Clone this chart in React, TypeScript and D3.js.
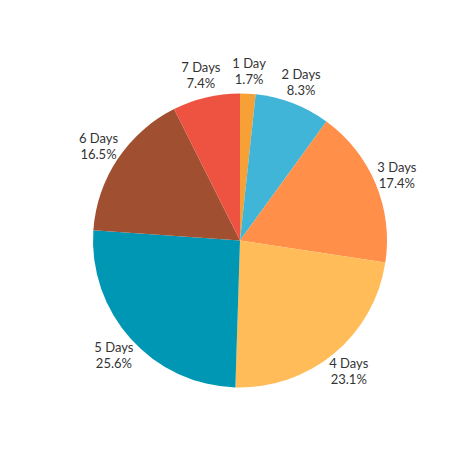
import React from "react";
import * as d3 from "d3";

const categories = ["1 Day", "2 Days", "3 Days", "4 Days", "5 Days", "6 Days", "7 Days"];
const values = [1.7, 8.3, 17.4, 23.1, 25.6, 16.5, 7.4];
const colors = ["#F7A035", "#41B5D7", "#FF8F49", "#FFBC59", "#0097B5", "#A05030", "#EE5240"];

export default function App() {
  const W = 474, H = 474;
  const cx = 240, cy = 240.5, r = 147, lr = 170;
  const pie = d3.pie<number>().sort(null).value((d) => d);
  const arcs = pie(values);
  const arc = d3.arc<d3.PieArcDatum<number>>().innerRadius(0).outerRadius(r);
  return (
    <svg width={W} height={H} style={{ position: "absolute", left: 0, top: 0 }}>
      <rect width={W} height={H} fill="#fff" />
      <g transform={`translate(${cx},${cy})`}>
        {arcs.map((a, i) => (
          <path key={i} d={arc(a) || ""} fill={colors[i]} />
        ))}
        {arcs.map((a, i) => {
          const m = (a.startAngle + a.endAngle) / 2;
          const x = Math.sin(m) * lr;
          const y = -Math.cos(m) * lr;
          return (
            <text key={"t" + i} x={x} y={y} textAnchor="middle" fontFamily="Lato, 'Open Sans', sans-serif" fontSize={13} fill="#333">
              <tspan x={x} dy={-3}>{categories[i]}</tspan>
              <tspan x={x} dy={16}>{values[i].toFixed(1) + "%"}</tspan>
            </text>
          );
        })}
      </g>
    </svg>
  );
}
